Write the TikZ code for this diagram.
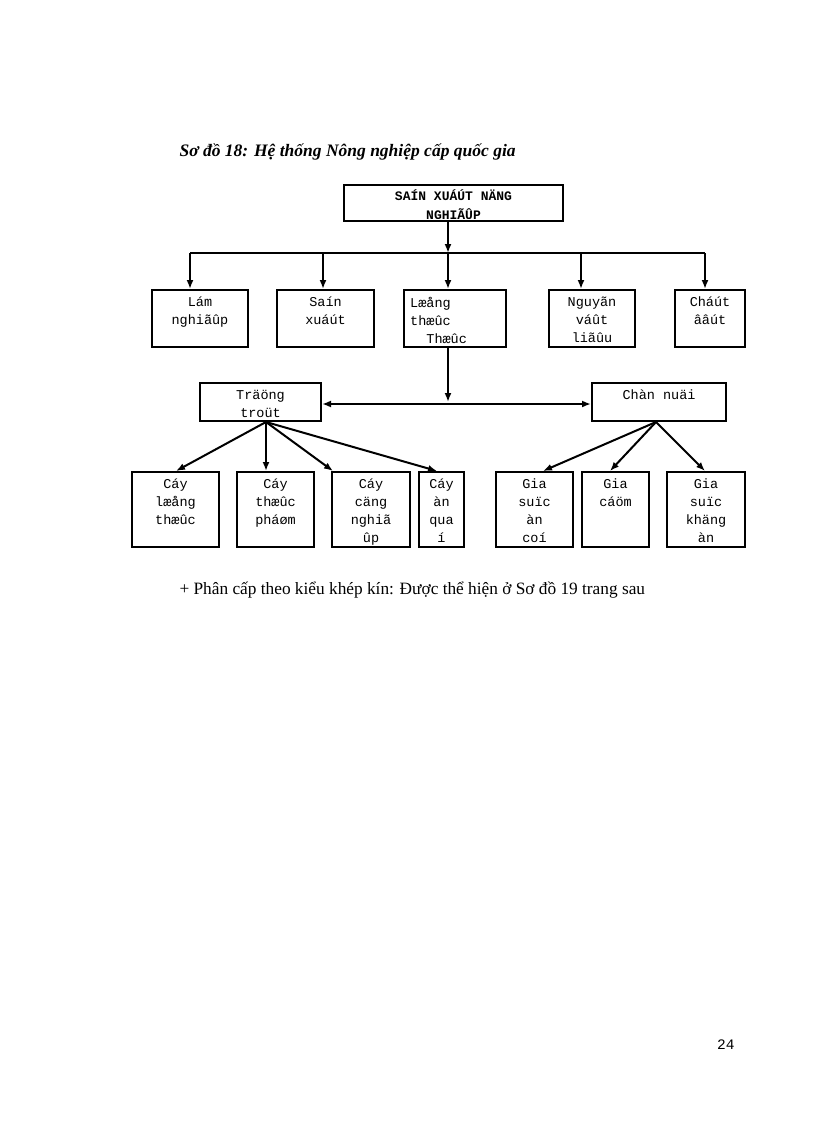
\documentclass[tikz,border=0pt]{standalone}
\usepackage{fontspec}
\usetikzlibrary{arrows.meta}
\setmainfont{Liberation Serif}
\setmonofont{Liberation Mono}
\begin{document}
\begin{tikzpicture}[x=1pt,y=-1pt,
 box/.style={draw,line width=2pt,inner sep=0pt},
 arr/.style={-{Latex[length=9pt,width=7pt]},line width=2pt},
 lbl/.style={font=\ttfamily\fontsize{13.5}{18}\selectfont,align=center,anchor=north,inner sep=0pt}]
\useasboundingbox (0,0) rectangle (816,1123);
\newcommand\bx[6]{%
 \node[box,minimum width=#3-#2,minimum height=#5-#4,anchor=north west] (#1) at (#2,#4) {};
 \begin{scope}\clip (#2+1,#4+1) rectangle (#3-1,#5-1);
 \node[lbl] at ([yshift=-8pt]#1.north) {#6};\end{scope}}
\node[anchor=west,font=\bfseries\itshape\fontsize{17.5}{20}\selectfont] (cap) at (176,152) {Sơ đồ 18: Hệ thống Nông nghiệp cấp quốc gia};
\node[box,minimum width=219,minimum height=36,anchor=north west] (top) at (343,184) {};
\begin{scope}\clip (344,185) rectangle (561,219);
\node[lbl,font=\ttfamily\bfseries\fontsize{13}{19}\selectfont] at ([yshift=-5pt]top.north) {SAÍN XUÁÚT NÄNG\\NGHIÃÛP};
\end{scope}
\bx{a}{151}{247}{289}{346}{Lám\\nghiãûp}
\bx{b}{276}{373}{289}{346}{Saín\\xuáút}
\bx{c}{403}{505}{289}{346}{}
\begin{scope}\clip (404,290) rectangle (504,345);
\node[lbl,align=left,anchor=north west] at (410,297) {Læång\\thæûc\\\ \ Thæûc};
\end{scope}
\bx{d}{548}{634}{289}{346}{Nguyãn\\váût\\liãûu}
\bx{e}{674}{744}{289}{346}{Cháút\\ââút}
\bx{tr}{199}{320}{382}{420}{Träöng\\troüt}
\bx{cn}{591}{725}{382}{420}{Chàn nuäi}
\bx{f1}{131}{218}{471}{546}{Cáy\\læång\\thæûc}
\bx{f2}{236}{313}{471}{546}{Cáy\\thæûc\\pháøm}
\bx{f3}{331}{409}{471}{546}{Cáy\\cäng\\nghiã\\ûp}
\bx{f4}{418}{463}{471}{546}{Cáy\\àn\\qua\\í}
\bx{g1}{495}{572}{471}{546}{Gia\\suïc\\àn\\coí}
\bx{g2}{581}{648}{471}{546}{Gia\\cáöm}
\bx{g3}{666}{744}{471}{546}{Gia\\suïc\\khäng\\àn}
\coordinate (j) at (448,253);
\draw[arr] (top.south -| j) -- (j);
\draw[line width=2pt] (190,253) -- (705,253);
\foreach \n/\x in {a/190,b/323,c/448,d/581,e/705}
  \draw[arr] (\x,253) -- (\x,289);
\draw[arr] (c.south -| j) -- (448,402);
\draw[arr,{Latex[length=9pt,width=7pt]}-{Latex[length=9pt,width=7pt]}] (tr.east |- 0,404) -- (cn.west |- 0,404);
\coordinate (tp) at (266,422);
\coordinate (cp) at (656,422);
\draw[arr] (tp) -- (176,471);
\draw[arr] (tp) -- (266,471);
\draw[arr] (tp) -- (333,471);
\draw[arr] (tp) -- (437,471);
\draw[arr] (cp) -- (543,471);
\draw[arr] (cp) -- (610,471);
\draw[arr] (cp) -- (705,471);
\node[anchor=west,font=\fontsize{17.3}{20}\selectfont] (note) at (176,590) {+ Phân cấp theo kiểu khép kín: Được thể hiện ở Sơ đồ 19 trang sau};
\node[anchor=east,font=\ttfamily\fontsize{14.5}{16}\selectfont] (pg) at (738,1045) {24};
\end{tikzpicture}
\end{document}
